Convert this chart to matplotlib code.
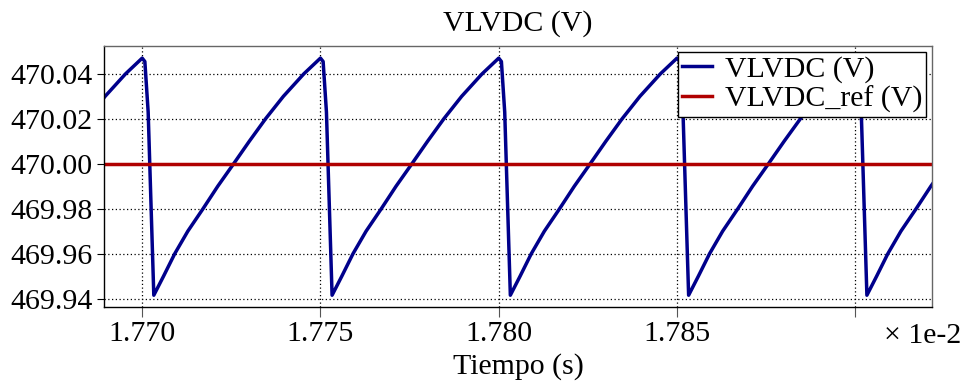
import numpy as np
import matplotlib
matplotlib.use('Agg')
import matplotlib.pyplot as plt

# Waveform vertices (time in units of 1e-2 s)
tiempo = [1.76846, 1.768960, 1.769533,
          1.770000, 1.770075, 1.770168, 1.770326, 1.770600, 1.770914, 1.771280, 1.771707,
          1.772120, 1.772565, 1.773004, 1.773460, 1.773960, 1.774533,
          1.775000, 1.775075, 1.775168, 1.775326, 1.775600, 1.775914, 1.776280, 1.776707,
          1.777120, 1.777565, 1.778004, 1.778460, 1.778960, 1.779533,
          1.780000, 1.780075, 1.780168, 1.780326, 1.780600, 1.780914, 1.781280, 1.781707,
          1.782120, 1.782565, 1.783004, 1.783460, 1.783960, 1.784533,
          1.785000, 1.785075, 1.785168, 1.785326, 1.785600, 1.785914, 1.786280, 1.786707,
          1.787120, 1.787565, 1.788004, 1.788460, 1.788960, 1.789533,
          1.790000, 1.790075, 1.790168, 1.790326, 1.790600, 1.790914, 1.791280, 1.791707,
          1.792120, 1.792565]
vlvdc = [470.020, 470.030, 470.040,
         470.047, 470.0455, 470.023, 469.9415, 469.950, 469.960, 469.970, 469.980,
         469.990, 470.000, 470.010, 470.020, 470.030, 470.040,
         470.047, 470.0455, 470.023, 469.9415, 469.950, 469.960, 469.970, 469.980,
         469.990, 470.000, 470.010, 470.020, 470.030, 470.040,
         470.047, 470.0455, 470.023, 469.9415, 469.950, 469.960, 469.970, 469.980,
         469.990, 470.000, 470.010, 470.020, 470.030, 470.040,
         470.047, 470.0455, 470.023, 469.9415, 469.950, 469.960, 469.970, 469.980,
         469.990, 470.000, 470.010, 470.020, 470.030, 470.040,
         470.047, 470.0455, 470.023, 469.9415, 469.950, 469.960, 469.970, 469.980,
         469.990, 470.000]
ref_t = [1.76, 1.80]
ref_v = [470.0, 470.0]

xticks = [1.770, 1.775, 1.780, 1.785, 1.790]
xlabels = ['1.770', '1.775', '1.780', '1.785', '']
yticks = [469.94, 469.96, 469.98, 470.00, 470.02, 470.04]

fs = 21.5
plt.rcParams['font.family'] = ['Liberation Serif', 'DejaVu Serif']
plt.rcParams['font.size'] = fs

fig = plt.figure(figsize=(9.65, 3.85), dpi=100)
ax = fig.add_axes([0.1078, 0.2034, 0.8583, 0.6771])

ax.plot(tiempo, vlvdc, color='#00008b', lw=2.5, label='VLVDC (V)', solid_joinstyle='round')
ax.plot(ref_t, ref_v, color='#b00000', lw=2.5, label='VLVDC_ref (V)')

ax.set_xlim(1.76893, 1.79216)
ax.set_ylim(469.9364, 470.0524)
ax.set_xticks(xticks)
ax.set_xticklabels(xlabels)
ax.set_yticks(yticks)
ax.set_yticklabels(['%.2f' % v for v in yticks])
ax.tick_params(axis='x', direction='out', length=7, color='#555555', pad=3)
ax.tick_params(axis='y', direction='out', length=5, pad=3)
ax.grid(True, color='black', linestyle=(0, (1, 2)), lw=0.9)

for s in ['top', 'right']:
    ax.spines[s].set_color('#666666')
for s in ax.spines.values():
    s.set_linewidth(1.0)

ax.set_title('VLVDC (V)', fontsize=fs, pad=11)
ax.set_xlabel('Tiempo (s)', fontsize=fs, labelpad=5)
fig.text(0.9965, 0.127, '× 1e-2', ha='right', va='center', fontsize=fs)

leg = ax.legend(loc='upper right', fancybox=False, edgecolor='black', framealpha=1,
                borderaxespad=0.2, borderpad=0.12, handlelength=1.0, handletextpad=0.45,
                labelspacing=0.1, fontsize=fs)
leg.get_frame().set_linewidth(1.0)

plt.savefig('out.png', dpi=100)
